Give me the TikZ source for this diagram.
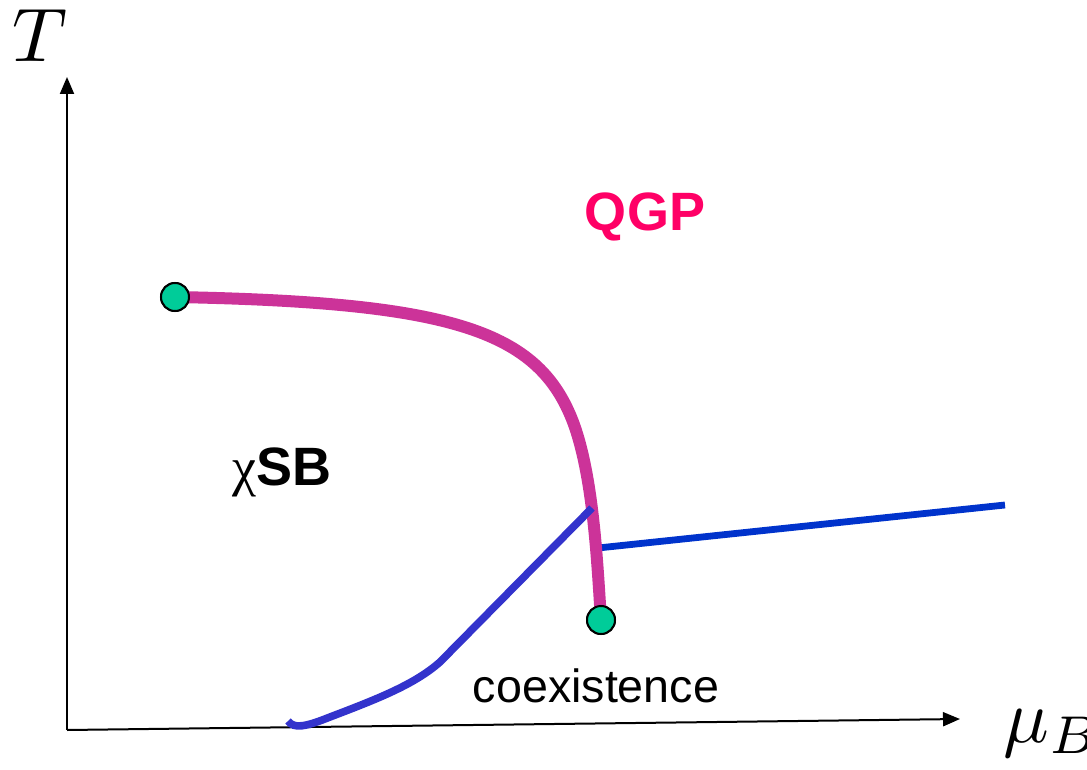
\documentclass[tikz,border=0pt]{standalone}
\usepackage{fontspec}
\setmainfont{Liberation Sans}
\newfontfamily\greekfont{Liberation Serif}
\usepackage{graphicx}
\usepackage{tikz}
\usetikzlibrary{arrows.meta, positioning}
\definecolor{qgpPink}{HTML}{CC3399}
\definecolor{qgpText}{HTML}{FF0066}
\definecolor{chiBlue}{HTML}{3333CC}
\definecolor{liqBlue}{HTML}{0033CC}
\definecolor{cpGreen}{HTML}{00CC99}
\newcommand{\axtext}[1]{\scalebox{3.8}{#1}}
\tikzset{
  axis/.style={draw=black, line width=1pt,
               -{Triangle[length=8.5pt, width=7pt]}},
  critpt/.style={circle, draw=black, fill=cpGreen, line width=1pt,
                 inner sep=0pt, minimum size=14pt},
  qgpline/.style={draw=qgpPink, line width=6pt, line cap=round},
  chiline/.style={draw=chiBlue, line width=3.8pt},
  liqline/.style={draw=liqBlue, line width=3.4pt},
  axlabel/.style={inner sep=0pt},
  phase/.style={inner sep=0pt, font=\fontsize{27}{29}\selectfont\bfseries},
}
\begin{document}
\begin{tikzpicture}[x=0.5pt, y=-0.5pt]
    \useasboundingbox (0,0) rectangle (1087,770);
    %% axes
    \coordinate (orig) at (67,730);
    \coordinate (tTip) at (67,77);
    \coordinate (muTip) at (960,719);
    \draw[axis] (orig) -- (tTip);
    \draw[axis] (orig) -- (muTip);
    \node[axlabel, anchor=base] (tLab) at (40,62) {\axtext{$T$}};
    \node[axlabel, anchor=base west] (muLab) at (1003,742) {\axtext{$\mu_B$}};
    %% critical points
    \node[critpt] (cpL) at (175,297) {};
    \node[critpt] (cpR) at (601,620) {};
    \coordinate (tp) at (598,548);
    \coordinate (liqEnd) at (1005,505);
    \coordinate (chiLow) at (288,721);
    \coordinate (chiTop) at (592,508);
    %% transition lines
    \draw[liqline] (tp) -- (liqEnd);
    \draw[qgpline] (cpL.center) .. controls (440,302) and (530,328) .. (568,410)
                   .. controls (593,463) and (597,560) .. (cpR.center);
    \draw[chiline] (chiLow) .. controls (294,729) and (305,727) .. (330,717)
                   .. controls (380,698) and (415,684) .. (440,662)
                   -- (chiTop);
    \node[critpt] at (cpL) {};
    \node[critpt] at (cpR) {};
    %% phase labels
    \node[phase, anchor=base, text=qgpText] (qgp) at (645,231) {QGP};
    \node[phase, anchor=base] (chiSB) at (282,485) {{\mdseries\greekfont χ}SB};
    \node[inner sep=0pt, anchor=base, font=\fontsize{23.3}{25}\selectfont]
          (coex) at (596,702) {coexistence};
  \end{tikzpicture}
\end{document}
